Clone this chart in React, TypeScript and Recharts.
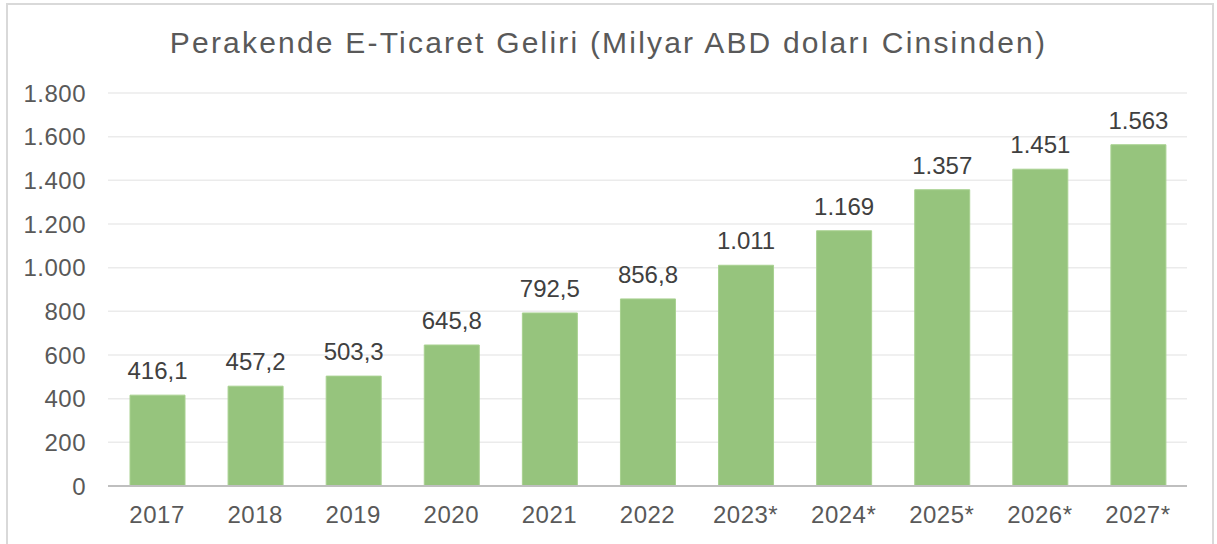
import { BarChart, Bar, XAxis, YAxis, CartesianGrid, LabelList } from "recharts";

const years = ["2017", "2018", "2019", "2020", "2021", "2022", "2023*", "2024*", "2025*", "2026*", "2027*"];
const revenue = [416.1, 457.2, 503.3, 645.8, 792.5, 856.8, 1011, 1169, 1357, 1451, 1563];
const yTicks = [0, 200, 400, 600, 800, 1000, 1200, 1400, 1600, 1800];

const data = years.map((year, i) => ({ year, revenue: revenue[i] }));

// Turkish style: "." for thousands, "," for decimals
function trNumber(v: number) {
  const [intPart, dec] = String(v).split(".");
  const grouped = intPart.replace(/\B(?=(\d{3})+(?!\d))/g, ".");
  return dec ? `${grouped},${dec}` : grouped;
}

const textColor = "#595959";
const font = "'Liberation Sans', Arial, sans-serif";

export default function App() {
  return (
    <div
      style={{
        position: "absolute",
        left: 0,
        top: 0,
        width: 1217,
        height: 544,
        background: "#ffffff",
        overflow: "hidden",
        fontFamily: font,
      }}
    >
      <div
        style={{
          position: "absolute",
          left: 6,
          top: 3,
          width: 1204,
          height: 560,
          border: "2px solid #d9d9d9",
        }}
      />
      <div
        style={{
          position: "absolute",
          left: 0,
          top: 28,
          width: 1217,
          textAlign: "center",
          fontSize: 30,
          lineHeight: "30px",
          color: textColor,
          letterSpacing: 2.2,
        }}
      >
        Perakende E-Ticaret Geliri (Milyar ABD doları Cinsinden)
      </div>
      <div style={{ position: "absolute", left: 0, top: 0 }}>
        <BarChart
          width={1217}
          height={544}
          data={data}
          margin={{ top: 93, right: 30, bottom: 8, left: 0 }}
          barSize={55}
        >
          <CartesianGrid vertical={false} stroke="#ebebeb" strokeWidth={1.5} />
          <XAxis
            dataKey="year"
            height={50}
            tickLine={false}
            axisLine={{ stroke: "#bfbfbf", strokeWidth: 2 }}
            tickMargin={14}
            tick={{ fill: textColor, fontSize: 24, fontFamily: font, letterSpacing: 0.5 }}
            interval={0}
          />
          <YAxis
            width={108}
            domain={[0, 1800]}
            ticks={yTicks}
            tickFormatter={trNumber}
            axisLine={false}
            tickLine={false}
            tickMargin={16}
            tick={{ fill: textColor, fontSize: 24, fontFamily: font, letterSpacing: 0.5 }}
          />
          <Bar dataKey="revenue" fill="#96c47d" stroke="#a8d190" strokeWidth={1} isAnimationActive={false}>
            <LabelList
              dataKey="revenue"
              position="top"
              offset={16}
              formatter={(v: number) => trNumber(v)}
              style={{ fill: "#404040", fontSize: 24, fontFamily: font }}
            />
          </Bar>
        </BarChart>
      </div>
    </div>
  );
}
